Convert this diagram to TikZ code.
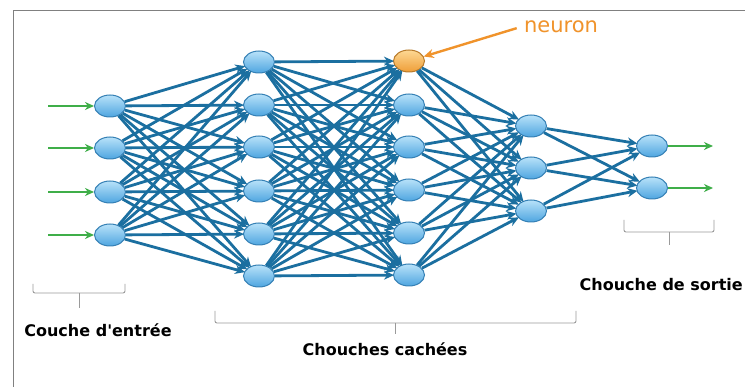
\documentclass[tikz,border=0pt]{standalone}
\usepackage{fontspec}
\setmainfont{DejaVu Sans}
\usepackage{tikz}
\usetikzlibrary{arrows.meta,shapes.geometric}

\definecolor{edgeblue}{HTML}{1B6FA0}
\definecolor{cellline}{HTML}{3580B5}
\definecolor{celltop}{HTML}{B8E2F9}
\definecolor{cellbot}{HTML}{4EA5E0}
\definecolor{neurline}{HTML}{B87A2A}
\definecolor{neurtop}{HTML}{FDD894}
\definecolor{neurbot}{HTML}{EF9E38}
\definecolor{ioarrow}{HTML}{3FAE49}
\definecolor{neurtext}{HTML}{F0932B}
\definecolor{bracegray}{HTML}{9A9A9A}

\tikzset{
  cell/.style={ellipse, minimum width=31pt, minimum height=22pt, inner sep=0pt,
    draw=cellline, line width=1pt, top color=celltop, bottom color=cellbot},
  hotcell/.style={cell, draw=neurline, top color=neurtop, bottom color=neurbot},
  link/.style={edgeblue, line width=2.8pt, -{Stealth[length=10pt,width=9pt]}, shorten >=-1pt},
  ioline/.style={ioarrow, line width=2.8pt, -{Stealth[length=9pt,width=8pt]}},
  bracket/.style={bracegray, line width=0.9pt, rounded corners=2pt},
  layername/.style={font=\fontsize{16}{19}\selectfont\bfseries}
}

\begin{document}
\begin{tikzpicture}[x=1pt, y=-1pt]
\useasboundingbox (0,0) rectangle (745,387);
\clip (0,0) rectangle (745,387);
\fill[white] (0,0) rectangle (745,387);
\draw[gray, line width=1pt] (13,387) -- (13,11) -- (745,11);

% input layer
\node[cell] (i1) at (110,106) {};
\node[cell] (i2) at (110,148) {};
\node[cell] (i3) at (110,192) {};
\node[cell] (i4) at (110,235) {};

% first hidden layer
\node[cell] (a1) at (259,62) {};
\node[cell] (a2) at (259,105) {};
\node[cell] (a3) at (259,147) {};
\node[cell] (a4) at (259,191) {};
\node[cell] (a5) at (259,234) {};
\node[cell] (a6) at (259,276) {};

% second hidden layer
\node[hotcell] (b1) at (409,61) {};
\node[cell] (b2) at (409,105) {};
\node[cell] (b3) at (409,147) {};
\node[cell] (b4) at (409,190) {};
\node[cell] (b5) at (409,233) {};
\node[cell] (b6) at (409,275) {};

% third hidden layer
\node[cell] (c1) at (531,126) {};
\node[cell] (c2) at (531,168) {};
\node[cell] (c3) at (531,211) {};

% output layer
\node[cell] (o1) at (652,146) {};
\node[cell] (o2) at (652,188) {};

\foreach \s in {1,...,4}
  \foreach \t in {1,...,6}
    \draw[link] (i\s) -- (a\t);
\foreach \s in {1,...,6}
  \foreach \t in {1,...,6}
    \draw[link] (a\s) -- (b\t);
\foreach \s in {1,...,6}
  \foreach \t in {1,...,3}
    \draw[link] (b\s) -- (c\t);
\foreach \s in {1,...,3}
  \foreach \t in {1,...,2}
    \draw[link] (c\s) -- (o\t);

% inputs and outputs
\coordinate (x1) at (48,106);
\coordinate (x2) at (48,148);
\coordinate (x3) at (48,192);
\coordinate (x4) at (48,235);
\coordinate (y1) at (713,146);
\coordinate (y2) at (713,188);
\draw[ioline] (x1) -- (i1);
\draw[ioline] (x2) -- (i2);
\draw[ioline] (x3) -- (i3);
\draw[ioline] (x4) -- (i4);
\draw[ioline] (o1) -- (y1);
\draw[ioline] (o2) -- (y2);

% neuron label
\node[neurtext, font=\fontsize{21}{24}\selectfont] (tag) at (561,27) {neuron};
\draw[neurtext, line width=2.4pt, -{Stealth[length=10pt,width=9pt]}, shorten <=4pt] (tag.west) -- (b1);

% brackets
\draw[bracket] (33,284) -- (33,293) -- (125,293) -- (125,284);
\draw[bracket] (79,293) -- (79,308);
\draw[bracket] (215,311) -- (215,323) -- (576,323) -- (576,311);
\draw[bracket] (395,323) -- (395,334);
\draw[bracket] (624,220) -- (624,232) -- (714,232) -- (714,220);
\draw[bracket] (669,232) -- (669,245);

\node[layername] (lin) at (98,330) {Couche d\textquotesingle entrée};
\node[layername] (lhid) at (385,349) {Chouches cachées};
\node[layername, anchor=east, inner sep=1pt] (lout) at (744,285) {Chouche de sortie};
\end{tikzpicture}
\end{document}
